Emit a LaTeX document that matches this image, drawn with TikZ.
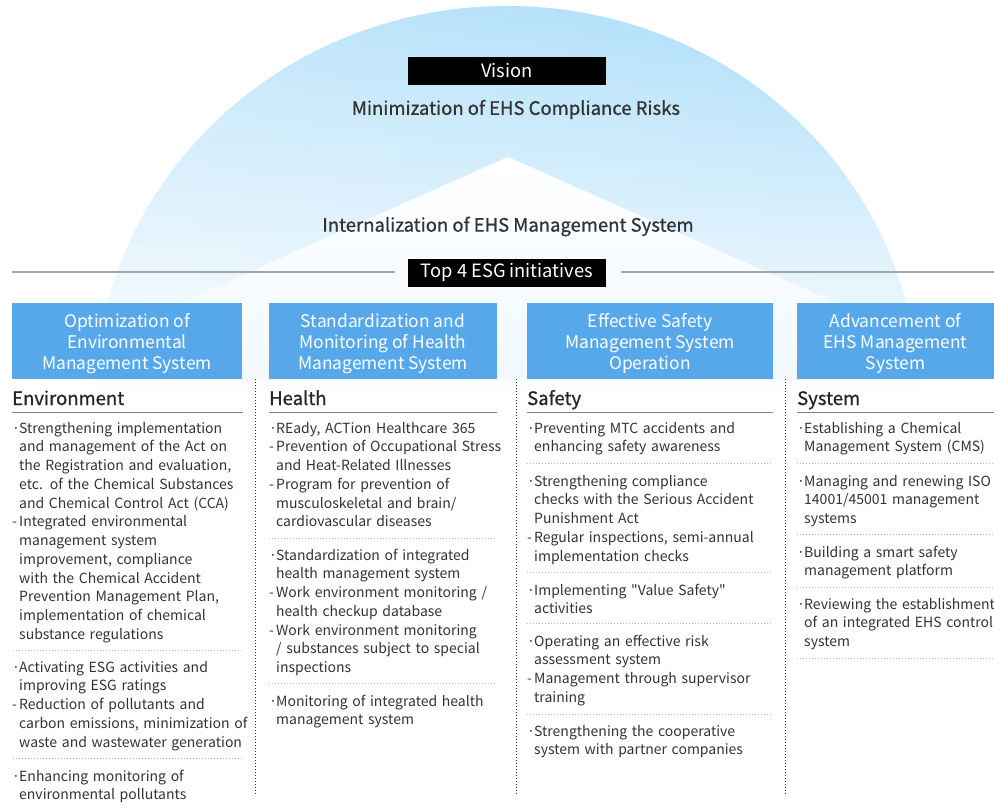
\documentclass[tikz,border=0pt]{standalone}
\usepackage{fontspec}
\setmainfont{Noto Sans CJK KR}
\newfontfamily\medfont[FakeBold=0.8]{Noto Sans CJK KR}
\newfontfamily\plainfont[Ligatures=ResetAll]{Noto Sans CJK KR}
\usepackage{xcolor}
\usetikzlibrary{positioning,calc,fadings}

\definecolor{archblue}{RGB}{170,221,250}
\definecolor{archlow}{RGB}{240,248,254}
\definecolor{hdrblue}{RGB}{87,168,235}
\definecolor{txtgray}{RGB}{51,51,51}
\definecolor{rulegray}{RGB}{165,165,165}
\definecolor{dotgray}{RGB}{185,185,185}

\setlength{\parskip}{0pt}
% one bullet line with hanging indent
\newcommand{\itm}[2]{{\noindent\hangindent=7pt\hangafter=1\let\\\newline\makebox[7pt][l]{#1}#2\par}}
\newcommand{\dq}{{\plainfont\char34}}

\begin{document}
\begin{tikzpicture}[
        x=1pt, y=-1pt,
        blackbox/.style={fill=black, text=white, minimum width=198pt, minimum height=28pt, inner sep=0pt, font=\fontsize{18.3}{21}\selectfont},
        motto/.style={inner sep=0pt, text=txtgray, font=\fontsize{18.5}{22}\selectfont\medfont},
        hdrbox/.style={fill=hdrblue, minimum height=76pt, inner sep=0pt},
        hdrtxt/.style={text=white, inner sep=0pt, align=center, font=\fontsize{17.4}{21}\selectfont},
        ttl/.style={anchor=base west, inner sep=0pt, text=black!85, font=\fontsize{18.5}{22}\selectfont\medfont},
        body/.style={anchor=base west, inner sep=0pt, text width=260pt, text=txtgray, font=\fontsize{14}{18.75}\selectfont},
        uline/.style={line width=1.5pt, draw=black!50},
        sep/.style={dotgray, line width=1pt, dash pattern=on 1pt off 2pt},
        vsep/.style={black!80, line width=1pt, dash pattern=on 1pt off 2pt},
        rule/.style={rulegray, line width=1.5pt},
    ]
    \useasboundingbox (0,0) rectangle (994,808);

    % Arch behind the vision
    \begin{scope}
        \clip (507,400) ellipse [x radius=412, y radius=394];
        \shade[top color=archblue, bottom color=white] (0,6) rectangle (994,400);
        \fill[white, fill opacity=0.3, path fading=east] (95,6) rectangle (919,400);
    \end{scope}
    % White peak inside the arch
    \begin{scope}
        \clip (507,400) ellipse [x radius=412, y radius=394];
        \clip (0,0) rectangle (994,379);
        \shade[top color=white, bottom color=archlow] (508,157) -- (-39,400) -- (1055,400) -- cycle;
    \end{scope}

    % Vision
    \node[blackbox] (vision) at (507,71) {Vision};
    \node[motto] (vismsg) at (516,109.5) {Minimization of EHS Compliance Risks};
    \node[motto] (intern) at (508,226.5) {Internalization of EHS Management System};

    % Top 4 initiatives with side rules
    \node[blackbox] (top4) at (507,273) {Top 4 ESG initiatives};
    \coordinate (rulel) at (12,272);
    \coordinate (ruler) at (994,272);
    \draw[rule] (rulel) -- ([xshift=-13pt]top4.west |- rulel);
    \draw[rule] ([xshift=15pt]top4.east |- ruler) -- (ruler);

    % Column headers
    \node[hdrbox, minimum width=230pt] (hdrenv) at (127,341) {};
    \node[hdrbox, minimum width=228pt] (hdrhlt) at (383,341) {};
    \node[hdrbox, minimum width=246pt] (hdrsaf) at (650,341) {};
    \node[hdrbox, minimum width=197pt] (hdrsys) at (895.5,341) {};
    \node[hdrtxt] (hdrenvtxt) at ($(hdrenv.center)+(0,2.5)$) {Optimization of\\Environmental\\Management System};
    \node[hdrtxt] (hdrhlttxt) at ($(hdrhlt.center)+(0,2.5)$) {Standardization and\\Monitoring of Health\\Management System};
    \node[hdrtxt] (hdrsaftxt) at ($(hdrsaf.center)+(0,2.5)$) {Effective Safety\\Management System\\Operation};
    \node[hdrtxt] (hdrsystxt) at ($(hdrsys.center)+(0,2.5)$) {Advancement of\\EHS Management\\System};

    % Column titles and underlines
    \node[ttl] (ttlenv) at (12,405) {Environment};
    \node[ttl] (ttlhlt) at (269,405) {Health};
    \node[ttl] (ttlsaf) at (527,405) {Safety};
    \node[ttl] (ttlsys) at (797,405) {System};
    \draw[uline] (12,412.5) -- (243,412.5);
    \draw[uline] (269,412.5) -- (497,412.5);
    \draw[uline] (527,412.5) -- (773,412.5);
    \draw[uline] (797,412.5) -- (994,412.5);

    % Vertical dotted separators
    \foreach \x in {255,516,785} {
        \draw[vsep] (\x,379) -- (\x,794);
    }

    % Dotted dividers between groups
    \foreach \y in {650,758} { \draw[sep] (13,\y) -- (243,\y); }
    \foreach \y in {538,683} { \draw[sep] (269,\y) -- (497,\y); }
    \foreach \y in {463,572,623,714} { \draw[sep] (527,\y) -- (773,\y); }
    \foreach \y in {463,534,587,658} { \draw[sep] (797,\y) -- (994,\y); }

    % Environment
    \node[body] (env1) at (12,433) {%
        \itm{·}{Strengthening implementation\\and management of the Act on\\the Registration and evaluation,\\etc. of the Chemical Substances\\and Chemical Control Act (CCA)}%
        \itm{-}{Integrated environmental\\management system\\improvement, compliance\\with the Chemical Accident\\Prevention Management Plan,\\implementation of chemical\\substance regulations}};
    \node[body] (env2) at (12,672) {%
        \itm{·}{Activating ESG activities and\\improving ESG ratings}%
        \itm{-}{Reduction of pollutants and\\carbon emissions, minimization of\\waste and wastewater generation}};
    \node[body] (env3) at (12,781) {%
        \itm{·}{Enhancing monitoring of\\environmental pollutants}};

    % Health
    \node[body] (hlt1) at (269,433) {%
        \itm{·}{REady, ACTion Healthcare 365}%
        \itm{-}{Prevention of Occupational Stress\\and Heat-Related Illnesses}%
        \itm{-}{Program for prevention of\\musculoskeletal and brain/\\cardiovascular diseases}};
    \node[body] (hlt2) at (269,560) {%
        \itm{·}{Standardization of integrated\\health management system}%
        \itm{-}{Work environment monitoring /\\health checkup database}%
        \itm{-}{Work environment monitoring\\/ substances subject to special\\inspections}};
    \node[body] (hlt3) at (269,706) {%
        \itm{·}{Monitoring of integrated health\\management system}};

    % Safety
    \node[body] (saf1) at (527,433) {%
        \itm{·}{Preventing MTC accidents and\\enhancing safety awareness}};
    \node[body] (saf2) at (527,486) {%
        \itm{·}{Strengthening compliance\\checks with the Serious Accident\\Punishment Act}%
        \itm{-}{Regular inspections, semi-annual\\implementation checks}};
    \node[body] (saf3) at (527,595) {%
        \itm{·}{Implementing \dq Value Safety\dq\\activities}};
    \node[body] (saf4) at (527,646) {%
        \itm{·}{Operating an effective risk\\assessment system}%
        \itm{-}{Management through supervisor\\training}};
    \node[body] (saf5) at (527,736) {%
        \itm{·}{Strengthening the cooperative\\system with partner companies}};

    % System
    \node[body] (sys1) at (797,433) {%
        \itm{·}{Establishing a Chemical\\Management System (CMS)}};
    \node[body] (sys2) at (797,486) {%
        \itm{·}{Managing and renewing ISO\\14001/45001 management\\systems}};
    \node[body] (sys3) at (797,557) {%
        \itm{·}{Building a smart safety\\management platform}};
    \node[body] (sys4) at (797,609) {%
        \itm{·}{Reviewing the establishment\\of an integrated EHS control\\system}};

\end{tikzpicture}
\end{document}
